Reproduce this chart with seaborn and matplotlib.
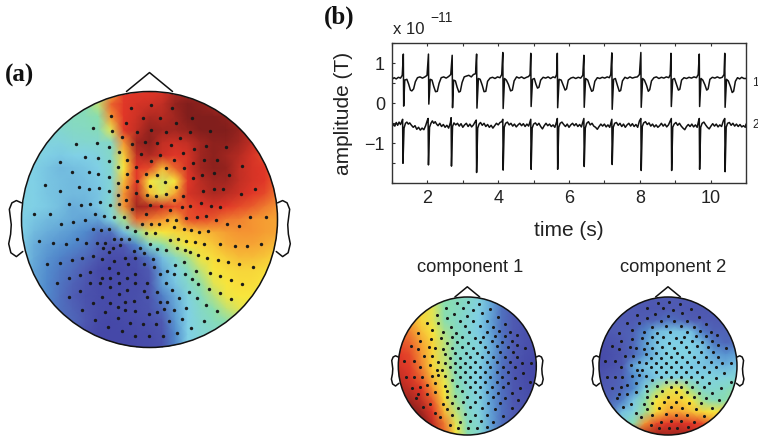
import numpy as np
import matplotlib
matplotlib.use('Agg')
import matplotlib.pyplot as plt
import seaborn as sns
from matplotlib.colors import LinearSegmentedColormap
from matplotlib.patches import Circle

W, H = 758, 438

# field values on a coarse grid (0 = indigo ... 10 = dark red)
field_a = [
    [4.5,4.5,4.5,4.5,4.5,4.6,5.0,6.5,8.0,8.0,8.0,8.2,8.8,9.0,9.0,8.8,8.5,8.5,8.3,8.0,8.0],
    [4.5,4.5,4.5,4.5,4.6,4.9,5.5,7.5,8.0,8.2,8.3,8.5,9.2,9.5,9.3,9.0,8.5,8.5,8.3,8.0,8.0],
    [4.4,4.4,4.4,4.5,4.7,4.8,5.0,7.0,8.0,8.3,8.8,8.7,9.0,9.5,9.5,9.5,9.3,8.8,8.3,8.0,8.0],
    [4.2,4.2,4.2,4.3,4.5,4.6,4.8,5.8,8.0,8.5,9.2,9.0,9.0,9.2,9.5,9.5,9.5,9.2,8.5,8.0,8.0],
    [4.0,4.0,4.0,4.0,4.2,4.3,4.3,4.5,7.0,9.0,9.3,8.5,8.3,8.5,9.0,9.3,9.3,9.0,8.5,8.0,7.8],
    [4.0,4.0,3.8,3.7,3.8,3.8,4.0,4.5,6.3,8.5,8.8,8.3,8.0,8.2,9.0,9.3,9.0,8.7,8.2,7.8,7.6],
    [4.0,3.8,3.6,3.4,3.5,3.6,3.8,4.3,6.0,8.0,7.8,6.6,7.5,8.2,9.0,9.3,9.2,8.5,8.2,8.0,7.5],
    [3.8,3.8,3.6,3.5,3.4,3.5,3.7,4.2,6.5,8.0,6.0,5.7,6.0,8.0,8.6,9.0,9.0,8.5,8.2,8.0,7.5],
    [3.9,3.8,3.6,3.5,3.4,3.4,3.6,4.2,7.0,8.5,6.5,5.8,6.8,8.2,8.5,8.8,8.6,8.3,8.0,7.8,7.3],
    [3.9,3.8,3.7,3.5,3.2,3.3,3.6,4.4,7.0,9.0,8.7,8.2,7.8,7.8,8.0,8.2,8.0,7.8,7.6,7.3,7.0],
    [3.8,3.6,3.4,3.3,3.1,3.0,3.0,4.0,5.3,7.5,7.3,7.0,6.5,7.7,7.8,7.6,7.3,7.2,7.0,6.9,6.8],
    [3.8,3.4,3.2,3.0,2.8,2.5,2.0,2.0,3.5,5.0,5.8,6.0,6.2,6.3,6.5,6.7,6.9,7.0,7.0,6.9,6.8],
    [3.7,3.2,2.9,2.7,2.5,2.2,1.7,1.3,1.5,2.5,4.3,5.0,5.6,6.0,6.2,6.4,6.7,6.8,6.8,6.7,6.5],
    [3.7,3.1,2.7,2.4,2.1,1.8,1.4,1.0,1.0,1.2,2.2,3.5,4.5,5.3,5.9,6.1,6.3,6.5,6.5,6.4,6.2],
    [3.5,3.0,2.6,2.2,1.9,1.5,0.9,0.8,0.9,1.0,1.5,3.0,3.8,4.7,5.5,6.0,6.1,6.2,6.2,6.1,6.0],
    [3.5,3.0,2.5,2.1,1.7,1.3,1.0,0.9,1.0,1.0,1.3,3.0,3.6,4.4,5.1,5.8,6.0,6.1,6.1,6.0,5.9],
    [3.5,3.0,2.5,2.0,1.6,1.2,1.0,0.9,1.0,1.1,1.4,2.3,3.2,4.0,4.7,5.4,5.9,6.0,6.0,5.8,5.8],
    [3.5,3.0,2.4,2.0,1.7,1.3,1.0,0.9,1.0,1.1,1.3,1.9,3.0,3.8,4.5,5.0,5.5,5.8,5.8,5.8,5.8],
    [3.0,2.8,2.2,1.8,1.8,1.4,0.9,0.8,0.9,1.0,1.2,1.5,2.8,3.8,4.3,4.7,5.0,5.2,5.2,5.2,5.2],
    [2.5,2.2,2.0,1.7,1.5,1.1,0.8,0.8,0.8,0.9,1.0,1.3,2.5,3.8,4.2,4.4,4.6,4.8,4.8,4.8,4.8],
    [2.0,1.8,1.5,1.2,1.0,0.8,0.8,0.8,0.8,0.9,1.0,1.2,2.4,3.8,4.1,4.3,4.4,4.4,4.4,4.4,4.4],
]
field_c1 = [
    [6.0,6.0,6.0,5.5,5.0,4.8,4.5,4.0,3.2,2.2,1.5,1.2,1.1],
    [6.5,6.3,6.2,5.8,5.0,4.7,4.3,3.9,3.1,2.0,1.5,1.2,1.1],
    [7.0,6.8,6.2,5.8,5.0,4.6,4.2,3.8,3.0,2.0,1.5,1.2,1.1],
    [7.5,7.2,6.5,6.0,5.3,4.7,4.2,3.7,3.0,2.0,1.5,1.2,1.1],
    [7.7,7.5,6.8,6.2,5.5,4.7,4.3,4.0,3.2,2.2,1.5,1.2,1.0],
    [8.0,7.8,7.0,6.2,5.5,4.6,4.2,4.0,3.2,2.1,1.5,1.1,0.9],
    [8.2,7.9,7.2,6.2,5.6,4.7,4.2,3.9,3.1,2.0,1.4,1.0,0.8],
    [8.5,8.1,7.5,6.5,5.8,4.8,4.2,3.8,3.0,2.0,1.4,1.0,0.8],
    [8.8,8.5,8.0,7.0,6.0,5.0,4.3,3.9,3.0,2.0,1.4,1.1,0.8],
    [9.0,9.0,8.5,7.6,6.2,5.2,4.3,4.0,3.0,2.0,1.4,1.2,1.0],
    [9.5,9.5,9.0,8.0,6.6,5.5,4.5,4.0,3.0,2.0,1.5,1.2,1.0],
    [9.5,9.5,9.5,8.5,7.3,5.8,4.7,4.2,3.0,2.0,1.5,1.2,1.0],
    [9.5,9.5,9.5,8.5,7.5,6.0,5.0,4.3,3.0,2.0,1.5,1.2,1.0],
]
field_c2 = [
    [1.5,1.5,1.5,1.5,1.5,1.5,1.5,1.5,1.5,1.5,1.5,1.5,1.5],
    [1.5,1.5,1.5,1.5,1.4,1.4,1.5,1.5,1.4,1.4,1.5,1.5,1.5],
    [1.5,1.5,1.5,1.5,1.6,1.7,2.0,1.8,1.6,1.5,1.5,1.5,1.5],
    [1.3,1.5,1.6,1.7,2.5,3.4,3.6,3.6,3.5,2.2,1.7,1.7,1.7],
    [1.0,1.2,1.5,1.8,2.9,3.6,3.8,3.8,3.8,3.4,2.2,1.8,2.0],
    [0.9,1.1,1.4,1.8,2.8,3.5,3.9,3.9,3.9,3.6,3.0,2.7,3.0],
    [1.0,1.2,1.5,3.0,3.6,3.8,3.9,3.8,3.7,3.6,3.5,3.3,3.6],
    [1.3,1.5,1.7,2.5,3.2,3.7,3.9,3.9,3.9,3.9,4.0,4.0,4.2],
    [1.5,1.6,1.8,2.5,4.0,5.2,5.8,5.9,5.2,4.3,4.3,4.6,5.0],
    [1.7,1.8,2.3,3.6,5.0,6.0,6.3,6.3,6.0,5.2,4.8,5.0,5.5],
    [2.0,2.0,3.5,4.0,5.2,6.2,6.8,6.8,6.5,6.2,6.0,6.2,6.5],
    [3.0,3.5,4.0,5.0,7.0,7.8,8.0,8.2,8.0,7.8,7.0,7.0,7.0],
    [5.0,5.0,6.0,8.0,8.7,9.0,9.0,9.0,8.8,8.0,7.0,7.0,7.0],
]

# sensor dots, read in 3x crop pixels
sensors_a_x = [392,453,516,333,428,480,575,378,528,278,334,409,452,497,570,628,366,538,228,289,325,395,433,470,511,580,618,677,
    356,422,478,548,253,293,380,452,520,612,651,180,325,578,725,353,408,498,552,215,265,294,436,470,605,642,687,325,379,578,
    410,353,135,495,235,295,267,327,380,527,450,608,640,668,765,180,722,352,408,440,467,496,549,378,522,603,207,241,270,300,330,355,
    395,450,482,545,570,633,660,101,148,285,312,342,372,437,509,558,590,617,648,750,797,255,218,182,424,451,477,500,527,680,717,
    278,303,327,380,403,437,464,520,550,572,597,622,229,258,291,315,340,363,387,510,533,558,585,115,157,196,610,660,703,741,783,
    450,470,497,530,553,570,308,338,360,420,277,245,215,180,140,327,400,430,593,619,652,683,716,757,
    305,340,375,405,458,550,525,500,325,352,382,432,460,588,553,630,660,238,268,305,330,380,405,478,520,
    205,170,270,300,355,405,440,575,594,692,725,330,380,430,497,515,565,625,658,238,205,355,470,590,692,
    278,305,330,375,400,440,478,500,535,617,245,315,352,375,405,445,470,490,520,558,650,
    285,352,390,428,468,505,545,610,323,365,405,447,488,530,572]
sensors_a_y = [138,130,140,163,170,170,170,183,185,200,207,210,205,212,211,208,225,228,247,245,256,247,242,245,250,262,252,257,
    272,278,280,275,286,291,295,298,296,296,295,303,300,305,315,317,318,320,320,332,333,338,338,340,340,335,341,347,339,350,
    360,365,372,362,377,381,383,388,378,377,373,388,383,384,384,388,398,402,395,400,403,398,405,417,416,424,428,431,427,421,430,428,
    443,432,433,438,433,434,436,457,457,458,464,466,466,458,445,471,467,463,478,466,467,476,482,489,489,490,490,476,478,489,495,
    505,506,504,498,510,517,517,497,505,508,512,510,535,546,546,545,535,535,535,538,534,540,542,540,547,548,550,550,555,555,550,
    549,565,567,560,567,573,560,562,553,560,585,592,598,605,610,572,570,577,583,592,598,604,610,618,
    595,600,590,592,595,603,612,630,620,635,610,610,617,630,640,636,645,642,632,652,650,650,640,640,640,
    652,665,665,665,665,665,665,653,668,657,670,680,688,690,665,688,695,685,698,692,708,700,695,713,714,
    728,708,728,724,720,710,725,723,713,732,747,755,740,748,750,760,755,745,747,743,750,
    778,773,787,790,790,780,775,780,800,810,826,827,826,818,802]

sensors_b_x = [232,265,297,198,248,278,330,170,222,262,305,355,140,200,240,280,320,375,175,213,255,300,340,
    115,155,190,228,268,320,358,390,183,215,247,285,310,345,375,410,93,120,153,200,230,265,300,335,365,395,
    115,147,165,190,215,245,280,315,350,383,435,412,72,103,133,157,195,225,257,290,325,360,398,
    175,210,240,270,305,340,375,412,120,150,195,225,255,285,320,352,390,425,452,170,185,210,240,270,300,330,370,405,
    78,103,125,155,175,225,255,285,315,350,385,430,195,240,270,300,330,365,405,
    95,120,140,165,215,255,285,315,350,385,450,195,230,270,300,335,370,420,
    115,140,165,200,245,285,320,355,395,128,150,200,225,262,300,340,375,415,
    108,190,215,250,285,325,360,395,165,200,235,270,305,345,180,215,255,285,320,370,
    210,240,270,302,340,235,265,290,322]
sensors_b_y = [160,157,163,173,175,180,178,195,192,197,190,200,220,205,212,213,212,222,220,232,228,228,232,
    250,240,245,248,245,247,243,245,265,262,262,265,262,257,257,255,287,272,268,280,277,280,277,272,275,272,
    297,292,295,297,293,292,295,290,288,290,293,285,333,333,317,318,312,308,308,310,305,305,305,
    335,325,323,322,322,320,320,322,352,345,340,338,338,337,337,337,337,340,340,360,360,352,352,352,352,350,352,352,
    380,382,382,378,375,367,367,367,365,367,367,370,378,382,382,380,380,382,385,
    415,410,405,400,390,397,397,395,395,400,395,408,408,410,410,410,412,413,
    432,432,425,422,422,425,425,428,428,470,462,440,438,440,440,442,445,450,
    445,462,460,457,455,458,460,475,488,478,475,472,473,478,500,495,492,495,495,497,
    525,515,512,512,515,535,533,535,530]

# the two traces of panel (b), in units of 1e-11 T
trace1_t = [1.00,1.06,1.12,1.18,1.24,1.29,1.32,1.33,1.36,1.42,1.47,1.52,1.56,1.61,1.66,1.72,1.79,1.86,1.93,1.99,
    2.03,2.04,2.08,2.13,2.18,2.23,2.28,2.33,2.39,2.46,2.53,2.60,2.66,
    2.70,2.71,2.74,2.79,2.84,2.89,2.93,2.98,3.04,3.10,3.17,3.24,3.30,3.36,
    3.39,3.40,3.44,3.49,3.55,3.60,3.65,3.70,3.77,3.84,3.91,3.98,4.05,4.10,
    4.13,4.14,4.18,4.23,4.29,4.35,4.40,4.45,4.52,4.59,4.66,4.73,4.80,4.86,4.90,
    4.92,4.93,4.97,5.02,5.07,5.11,5.15,5.20,5.27,5.34,5.41,5.48,5.55,5.61,5.65,
    5.67,5.68,5.72,5.78,5.84,5.89,5.93,5.98,6.05,6.12,6.19,6.26,6.33,6.39,
    6.42,6.43,6.47,6.53,6.59,6.64,6.68,6.73,6.80,6.87,6.94,7.01,7.08,7.14,7.18,
    7.21,7.22,7.26,7.31,7.37,7.42,7.46,7.51,7.58,7.65,7.72,7.79,7.86,7.93,7.99,
    8.03,8.04,8.08,8.13,8.19,8.24,8.28,8.33,8.40,8.47,8.54,8.61,8.68,8.75,8.82,8.86,
    8.88,8.89,8.93,8.98,9.04,9.09,9.13,9.18,9.25,9.32,9.39,9.46,9.53,9.60,9.65,
    9.68,9.69,9.73,9.78,9.84,9.89,9.93,9.98,10.05,10.12,10.19,10.26,10.33,10.38,
    10.40,10.41,10.45,10.50,10.56,10.61,10.65,10.70,10.76,10.82,10.88,10.94,11.00]
trace1_v = [.60,.64,.61,.65,.63,.70,1.23,-.07,.58,.60,.48,.33,.31,.36,.54,.64,.66,.63,.66,.70,
    1.23,-.02,.60,.58,.42,.29,.30,.50,.64,.66,.63,.67,.72,
    1.20,-.11,.58,.56,.40,.28,.30,.52,.66,.68,.70,.66,.72,.74,
    1.23,-.12,.62,.60,.45,.29,.30,.55,.63,.65,.62,.66,.64,.72,
    1.27,-.13,.62,.58,.47,.31,.33,.56,.66,.63,.66,.62,.65,.67,.72,
    1.25,-.08,.60,.62,.47,.38,.40,.58,.65,.63,.66,.62,.66,.64,.72,
    1.25,-.11,.60,.58,.44,.33,.36,.58,.63,.65,.62,.65,.63,.70,
    1.20,-.10,.62,.58,.42,.30,.32,.55,.64,.62,.65,.63,.66,.64,.72,
    1.26,-.15,.60,.62,.44,.30,.32,.56,.65,.62,.66,.63,.65,.66,.72,
    1.27,-.10,.62,.58,.45,.30,.34,.56,.64,.66,.62,.65,.63,.66,.64,.72,
    1.25,-.08,.60,.62,.46,.33,.35,.58,.64,.62,.65,.63,.66,.64,.72,
    1.23,-.08,.62,.58,.46,.33,.36,.60,.65,.63,.66,.63,.65,.72,
    1.25,-.10,.60,.56,.42,.27,.30,.55,.64,.61,.65,.62,.62]
trace2_t = [1.00,1.04,1.08,1.12,1.16,1.20,1.24,1.28,1.30,1.31,1.34,1.38,1.42,1.46,1.50,1.55,1.60,1.65,1.70,1.75,1.80,1.85,1.90,1.95,2.00,
    2.02,2.03,2.06,2.10,2.14,2.18,2.22,2.26,2.30,2.35,2.40,2.45,2.50,2.55,2.60,2.65,
    2.67,2.68,2.71,2.75,2.80,2.85,2.90,2.95,3.00,3.05,3.10,3.15,3.20,3.25,3.30,3.35,
    3.38,3.39,3.42,3.46,3.50,3.55,3.60,3.65,3.70,3.75,3.80,3.85,3.90,3.95,4.00,4.05,4.10,
    4.13,4.14,4.17,4.21,4.26,4.31,4.36,4.41,4.46,4.51,4.56,4.61,4.66,4.71,4.76,4.81,4.86,4.90,
    4.92,4.93,4.96,5.00,5.05,5.10,5.15,5.20,5.25,5.30,5.35,5.40,5.45,5.50,5.55,5.60,5.65,
    5.67,5.68,5.71,5.75,5.80,5.85,5.90,5.95,6.00,6.05,6.10,6.15,6.20,6.25,6.30,6.35,6.40,
    6.42,6.43,6.46,6.50,6.55,6.60,6.65,6.70,6.75,6.80,6.85,6.90,6.95,7.00,7.05,7.10,7.15,7.19,
    7.21,7.22,7.25,7.29,7.34,7.39,7.44,7.49,7.54,7.59,7.64,7.69,7.74,7.79,7.84,7.89,7.94,7.99,
    8.03,8.04,8.07,8.11,8.16,8.21,8.26,8.31,8.36,8.41,8.46,8.51,8.56,8.61,8.66,8.71,8.76,8.81,8.86,
    8.89,8.90,8.93,8.97,9.02,9.07,9.12,9.17,9.22,9.27,9.32,9.37,9.42,9.47,9.52,9.57,9.62,9.66,
    9.68,9.69,9.72,9.76,9.81,9.86,9.91,9.96,10.01,10.06,10.11,10.16,10.21,10.26,10.31,10.36,
    10.40,10.41,10.44,10.48,10.53,10.58,10.63,10.68,10.73,10.78,10.83,10.88,10.93,10.98,11.00]
trace2_v = [-.60,-.52,-.57,-.48,-.55,-.47,-.53,-.45,-.40,-1.50,-.62,-.50,-.47,-.52,-.49,-.55,-.60,-.56,-.65,-.60,-.67,-.62,-.66,-.56,-.42,
    -.38,-1.54,-.60,-.50,-.44,-.50,-.46,-.52,-.56,-.50,-.58,-.53,-.60,-.55,-.62,-.48,
    -.36,-1.57,-.58,-.49,-.54,-.50,-.57,-.51,-.60,-.54,-.50,-.58,-.52,-.59,-.54,-.46,
    -.42,-1.73,-.62,-.52,-.48,-.55,-.50,-.58,-.53,-.60,-.55,-.62,-.56,-.50,-.54,-.48,-.46,
    -.40,-1.67,-.60,-.50,-.47,-.54,-.50,-.57,-.52,-.59,-.54,-.50,-.56,-.51,-.58,-.52,-.57,-.46,
    -.40,-1.65,-.62,-.52,-.49,-.55,-.50,-.58,-.64,-.56,-.50,-.56,-.52,-.58,-.54,-.60,-.46,
    -.38,-1.65,-.60,-.50,-.47,-.53,-.58,-.52,-.60,-.54,-.50,-.56,-.51,-.58,-.53,-.59,-.44,
    -.38,-1.58,-.62,-.50,-.46,-.54,-.50,-.57,-.60,-.65,-.58,-.52,-.57,-.52,-.59,-.54,-.60,-.46,
    -.40,-1.53,-.60,-.50,-.48,-.55,-.50,-.58,-.52,-.60,-.54,-.50,-.57,-.51,-.58,-.53,-.60,-.44,
    -.38,-1.68,-.58,-.49,-.46,-.53,-.49,-.57,-.52,-.59,-.54,-.60,-.56,-.50,-.57,-.52,-.59,-.54,-.44,
    -.38,-1.68,-.60,-.52,-.48,-.55,-.50,-.57,-.62,-.66,-.58,-.53,-.58,-.52,-.59,-.54,-.60,-.44,
    -.38,-1.65,-.60,-.50,-.47,-.54,-.60,-.64,-.57,-.51,-.57,-.52,-.59,-.54,-.58,-.44,
    -.38,-1.71,-.60,-.50,-.48,-.55,-.50,-.57,-.52,-.58,-.53,-.59,-.56,-.60,-.52]

x_ticks = [1,2,3,4,5,6,7,8,9,10,11]
x_labels = ['','2','','4','','6','','8','','10','']
y_ticks = [1.5,1,0.5,0,-0.5,-1,-1.5,-2]
y_labels = ['','1','','0','','\u22121','','']

sns.set_theme(style='ticks')
plt.rcParams['font.family'] = ['Liberation Sans', 'DejaVu Sans']

head_cmap = LinearSegmentedColormap.from_list('head', [
    (0.00, '#3a349c'), (0.15, '#4f5ab2'), (0.25, '#5088cc'), (0.38, '#80d0e6'),
    (0.50, '#88deb0'), (0.60, '#f8e63c'), (0.70, '#f59632'), (0.80, '#e13728'),
    (0.95, '#821e1c'), (1.00, '#701a18')])

ink = '#111111'
fig = plt.figure(figsize=(W/100, H/100), dpi=100, facecolor='white')

def px_axes(left, top, right, bottom):
    return fig.add_axes([left/W, 1-bottom/H, (right-left)/W, (bottom-top)/H])

def px_text(x, y, s, **kw):
    kw.setdefault('color', ink)
    fig.text(x/W, 1-y/H, s, **kw)

def draw_head(cx, cy, r, field, sx, sy, dot):
    # axes a bit wider than the head so nose and ears fit in
    pad = 1.25
    ax = px_axes(cx-pad*r, cy-pad*r, cx+pad*r, cy+pad*r)
    n = len(field)
    sns.heatmap(np.array(field), ax=ax, cmap=head_cmap, vmin=0, vmax=10, cbar=False,
                xticklabels=False, yticklabels=False, shading='gouraud', linewidths=0)
    mid = (n-1)/2
    ax.set_xlim(mid-pad*mid, mid+pad*mid)
    ax.set_ylim(mid+pad*mid, mid-pad*mid)
    ax.patch.set_alpha(0)
    outline = Circle((mid, mid), mid, fill=False, ec=ink, lw=1.1, zorder=4)
    ax.add_patch(outline)
    ax.collections[0].set_clip_path(Circle((mid, mid), mid, transform=ax.transData))
    sns.scatterplot(x=mid+mid*np.array(sx), y=mid-mid*np.array(sy), ax=ax, color='#1a1a1a',
                    s=dot, linewidth=0, legend=False, zorder=3)
    # nose
    ax.plot(mid+mid*np.array([-.18,0,.18]), mid-mid*np.array([1.0,1.148,1.0]), color=ink, lw=1.1, clip_on=False)
    # ears
    ear_u = np.array([-1.0,-1.04,-1.075,-1.095,-1.08,-1.085,-1.10,-1.083,-1.04,-.99])
    ear_v = np.array([.13,.148,.13,.08,-.04,-.115,-.19,-.26,-.29,-.25])
    for side in (1, -1):
        ax.plot(mid+mid*side*ear_u, mid-mid*ear_v, color=ink, lw=1.1, clip_on=False)
    ax.set_axis_off()
    return ax

a_u = (np.array(sensors_a_x)-448)/384
a_v = (475-np.array(sensors_a_y))/386
b_u = (np.array(sensors_b_x)-262)/207
b_v = (348-np.array(sensors_b_y))/207

draw_head(149.5, 219.5, 128, field_a, a_u, a_v, 6)
draw_head(467.3, 366, 69, field_c1, b_u, b_v, 5)
draw_head(668, 366, 69, field_c2, b_u, b_v, 5)

# traces
ax = px_axes(392, 43.3, 746, 183.3)
sns.lineplot(x=trace1_t, y=trace1_v, ax=ax, color='#111111', lw=1.1, estimator=None, sort=False)
sns.lineplot(x=trace2_t, y=trace2_v, ax=ax, color='#111111', lw=1.1, estimator=None, sort=False)
ax.set_xlim(1, 11)
ax.set_ylim(-2, 1.5)
ax.set_xticks(x_ticks)
ax.set_xticklabels(x_labels, fontsize=13, color='#222222')
ax.set_yticks(y_ticks)
ax.set_yticklabels(y_labels, fontsize=13, color='#222222')
ax.tick_params(direction='in', length=2.5, width=.8, top=True, right=False, color='#333333', pad=5)
for s in ax.spines.values():
    s.set_linewidth(1.0)
    s.set_color('#333333')
    s.set_visible(True)
ax.set_xlabel('time (s)', fontsize=15, color='#222222', labelpad=10)
ax.set_ylabel('amplitude (T)', fontsize=15, color='#222222', labelpad=8)

px_text(393, 34, 'x 10', fontsize=12, color='#222222')
px_text(430, 22, '\u221211', fontsize=10, color='#222222')
px_text(752, 83, '1', fontsize=8.5, va='center', color='#222222')
px_text(752, 125, '2', fontsize=8.5, va='center', color='#222222')

px_text(5, 82, '(a)', fontsize=18, fontweight='bold', family='Liberation Serif')
px_text(324, 24, '(b)', fontsize=18, fontweight='bold', family='Liberation Serif')
px_text(470, 267, 'component 1', fontsize=13.2, ha='center', va='center', color='#222222')
px_text(673, 267, 'component 2', fontsize=13.2, ha='center', va='center', color='#222222')

fig.savefig('out.png', dpi=100)
